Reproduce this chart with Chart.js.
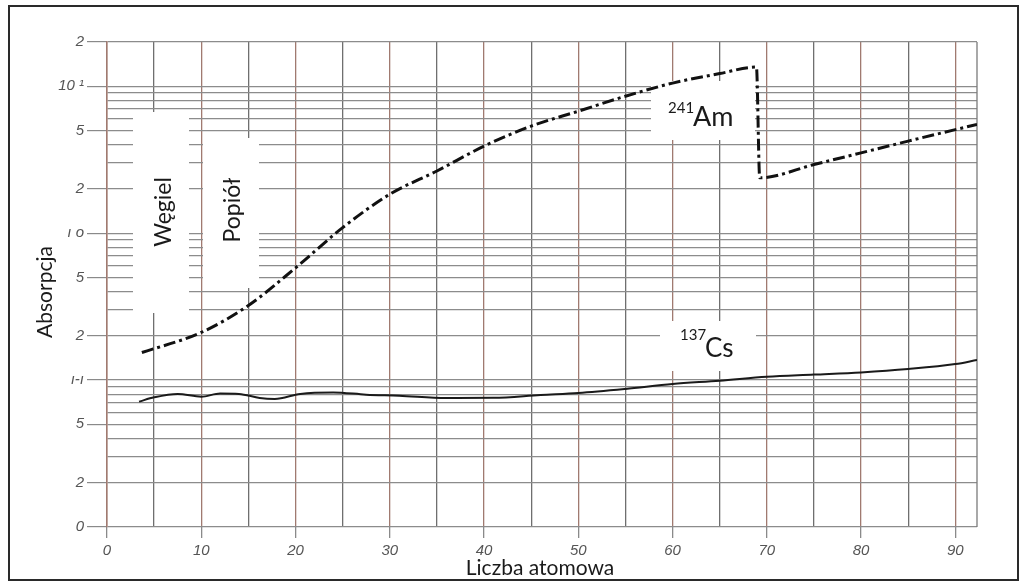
<!DOCTYPE html>
<html>
<head>
<meta charset="utf-8">
<script src="https://cdn.jsdelivr.net/npm/chart.js@4.4.1/dist/chart.umd.min.js"></script>
<style>
  html, body { margin: 0; padding: 0; background: #fff; }
  #wrap { width: 1026px; height: 586px; }
</style>
</head>
<body>
<div id="wrap"><canvas id="absChart" width="1026" height="586"></canvas></div>
<script>
"use strict";

// Dane (liczba atomowa Z -> absorpcja, skala log)
const amZ = [3.7, 10, 15, 20, 25, 30, 35, 40, 45, 50, 55, 60, 65, 68.9, 69.25, 75, 80, 85, 92.3];
const amVal = [0.154, 0.211, 0.322, 0.58, 1.09, 1.84, 2.65, 3.91, 5.35, 6.76, 8.55, 10.5, 12.2, 13.5, 2.38, 2.93, 3.52, 4.23, 5.5];

const csZ = [3.4, 5, 7.5, 10, 12, 14, 16.2, 17.8, 20.5, 24, 27.5, 31, 36, 41, 46, 50, 55, 60, 65, 70, 75, 80, 85, 90, 92.3];
const csVal = [0.0713, 0.0763, 0.0805, 0.0771, 0.0809, 0.0805, 0.0755, 0.0744, 0.0805, 0.0824, 0.0796, 0.0783, 0.0755, 0.0757, 0.0792, 0.0817, 0.0871, 0.094, 0.099, 0.1054, 0.109, 0.1128, 0.1189, 0.1285, 0.137];

// Podziałka osi Y (opisane wartości) i osi X
const yTickVals = [20, 10, 5, 2, 1, 0.5, 0.2, 0.1, 0.05, 0.02, 0.01];
const yTickText = ["2", "10 \u00B9", "5", "2", "\u0131 o", "5", "2", "\u0131-\u0131", "5", "2", "0"];
const xTickVals = [0, 10, 20, 30, 40, 50, 60, 70, 80, 90];
const xTickText = ["0", "10", "20", "30", "40", "50", "60", "70", "80", "90"];

const toPoints = (xs, ys) => xs.map((x, i) => ({ x: x, y: ys[i] }));

// wszystkie linie siatki 1..9 x 10^n
function logGridTicks(min, max) {
  const out = [];
  for (let e = -2; e <= 1; e++) {
    for (let m = 1; m <= 9; m++) {
      const v = +(m * Math.pow(10, e)).toPrecision(3);
      if (v >= min && v <= max) out.push({ value: v });
    }
  }
  return out;
}

const labelOf = (v) => {
  const i = yTickVals.findIndex((t) => Math.abs(t - v) / t < 1e-6);
  return i >= 0 ? yTickText[i] : "";
};

const FONT_TXT = "Lato, 'Open Sans', sans-serif";

// białe pola z opisami, ramka rysunku, prawa krawędź siatki
const paperPlugin = {
  id: "paper",
  beforeDatasetsDraw(chart) {
    const ctx = chart.ctx;
    const a = chart.chartArea;
    ctx.save();
    // prawa krawędź siatki
    ctx.strokeStyle = "#7a7a7a";
    ctx.lineWidth = 1.3;
    ctx.beginPath();
    ctx.moveTo(a.right, a.top);
    ctx.lineTo(a.right, a.bottom);
    ctx.stroke();

    ctx.fillStyle = "#fff";
    ctx.fillRect(133, 112, 56, 201);
    ctx.fillRect(203, 138, 56, 150);
    ctx.fillRect(651, 81, 104, 59);
    ctx.fillRect(660, 321, 96, 50);

    ctx.fillStyle = "#1a1a1a";
    ctx.textBaseline = "middle";
    ctx.textAlign = "center";
    ctx.font = "23px " + FONT_TXT;
    ctx.save();
    ctx.translate(164, 212);
    ctx.rotate(-Math.PI / 2);
    ctx.fillText("Węgiel", 0, 0);
    ctx.restore();
    ctx.save();
    ctx.translate(233, 210);
    ctx.rotate(-Math.PI / 2);
    ctx.fillText("Popiół", 0, 0);
    ctx.restore();

    ctx.textAlign = "left";
    ctx.textBaseline = "alphabetic";
    ctx.font = "15px " + FONT_TXT;
    ctx.fillText("241", 668, 113);
    ctx.font = "27px " + FONT_TXT;
    ctx.fillText("Am", 693, 126);
    ctx.font = "15px " + FONT_TXT;
    ctx.fillText("137", 680, 340);
    ctx.font = "26px " + FONT_TXT;
    ctx.fillText("Cs", 705, 357);
    ctx.restore();
  },
  afterDraw(chart) {
    const ctx = chart.ctx;
    ctx.save();
    ctx.fillStyle = "#1a1a1a";
    ctx.font = "21px " + FONT_TXT;
    ctx.textAlign = "center";
    ctx.textBaseline = "middle";
    ctx.fillText("Liczba atomowa", 540, 568);
    ctx.save();
    ctx.translate(45, 292);
    ctx.rotate(-Math.PI / 2);
    ctx.fillText("Absorpcja", 0, 0);
    ctx.restore();

    ctx.strokeStyle = "#2a2a2a";
    ctx.lineWidth = 2;
    ctx.strokeRect(9, 6, 1009, 574);
    ctx.restore();
  },
};

new Chart(document.getElementById("absChart").getContext("2d"), {
  type: "line",
  data: {
    datasets: [
      {
        label: "241Am",
        data: toPoints(amZ, amVal),
        borderColor: "#111",
        borderWidth: 3,
        borderDash: [12, 4, 3, 4],
        pointRadius: 0,
        fill: false,
        cubicInterpolationMode: "monotone",
      },
      {
        label: "137Cs",
        data: toPoints(csZ, csVal),
        borderColor: "#1a1a1a",
        borderWidth: 2,
        pointRadius: 0,
        fill: false,
        cubicInterpolationMode: "monotone",
      },
    ],
  },
  options: {
    responsive: false,
    animation: false,
    layout: { padding: { left: 0, right: 49, top: 42, bottom: 0 } },
    plugins: {
      legend: { display: false },
      tooltip: { enabled: false },
    },
    scales: {
      x: {
        type: "linear",
        min: 0,
        max: 92.3,
        afterFit: (s) => { s.height = 59; },
        afterBuildTicks: (s) => {
          const t = [];
          for (let v = 0; v <= 90; v += 5) t.push({ value: v });
          s.ticks = t;
        },
        border: { display: false },
        grid: {
          color: (c) => (c.tick && c.tick.value % 10 === 0 ? "#a07a70" : "#6f6f6f"),
          lineWidth: 1.3,
          tickLength: 11,
          tickColor: (c) => (c.tick && c.tick.value % 10 === 0 ? "#8a8a8a" : "rgba(0,0,0,0)"),
        },
        ticks: {
          autoSkip: false,
          maxRotation: 0,
          padding: 4,
          color: "#555",
          font: { family: "'Liberation Sans', Arial, sans-serif", size: 15, style: "italic" },
          callback: (v) => {
            const i = xTickVals.indexOf(v);
            return i >= 0 ? xTickText[i] : "";
          },
        },
      },
      y: {
        type: "logarithmic",
        min: 0.01,
        max: 20,
        afterFit: (s) => { s.width = 107; },
        afterBuildTicks: (s) => { s.ticks = logGridTicks(0.01, 20); },
        border: { display: true, color: "#a07a70", width: 1.5 },
        grid: {
          color: "#8c8c8c",
          lineWidth: 1.2,
          tickLength: 20,
          tickColor: (c) => (c.tick && labelOf(c.tick.value) ? "#8a8a8a" : "rgba(0,0,0,0)"),
        },
        ticks: {
          autoSkip: false,
          padding: 3,
          color: "#555",
          font: { family: "'Liberation Sans', Arial, sans-serif", size: 15, style: "italic" },
          callback: (v) => labelOf(v),
        },
      },
    },
  },
  plugins: [paperPlugin],
});
</script>
</body>
</html>
